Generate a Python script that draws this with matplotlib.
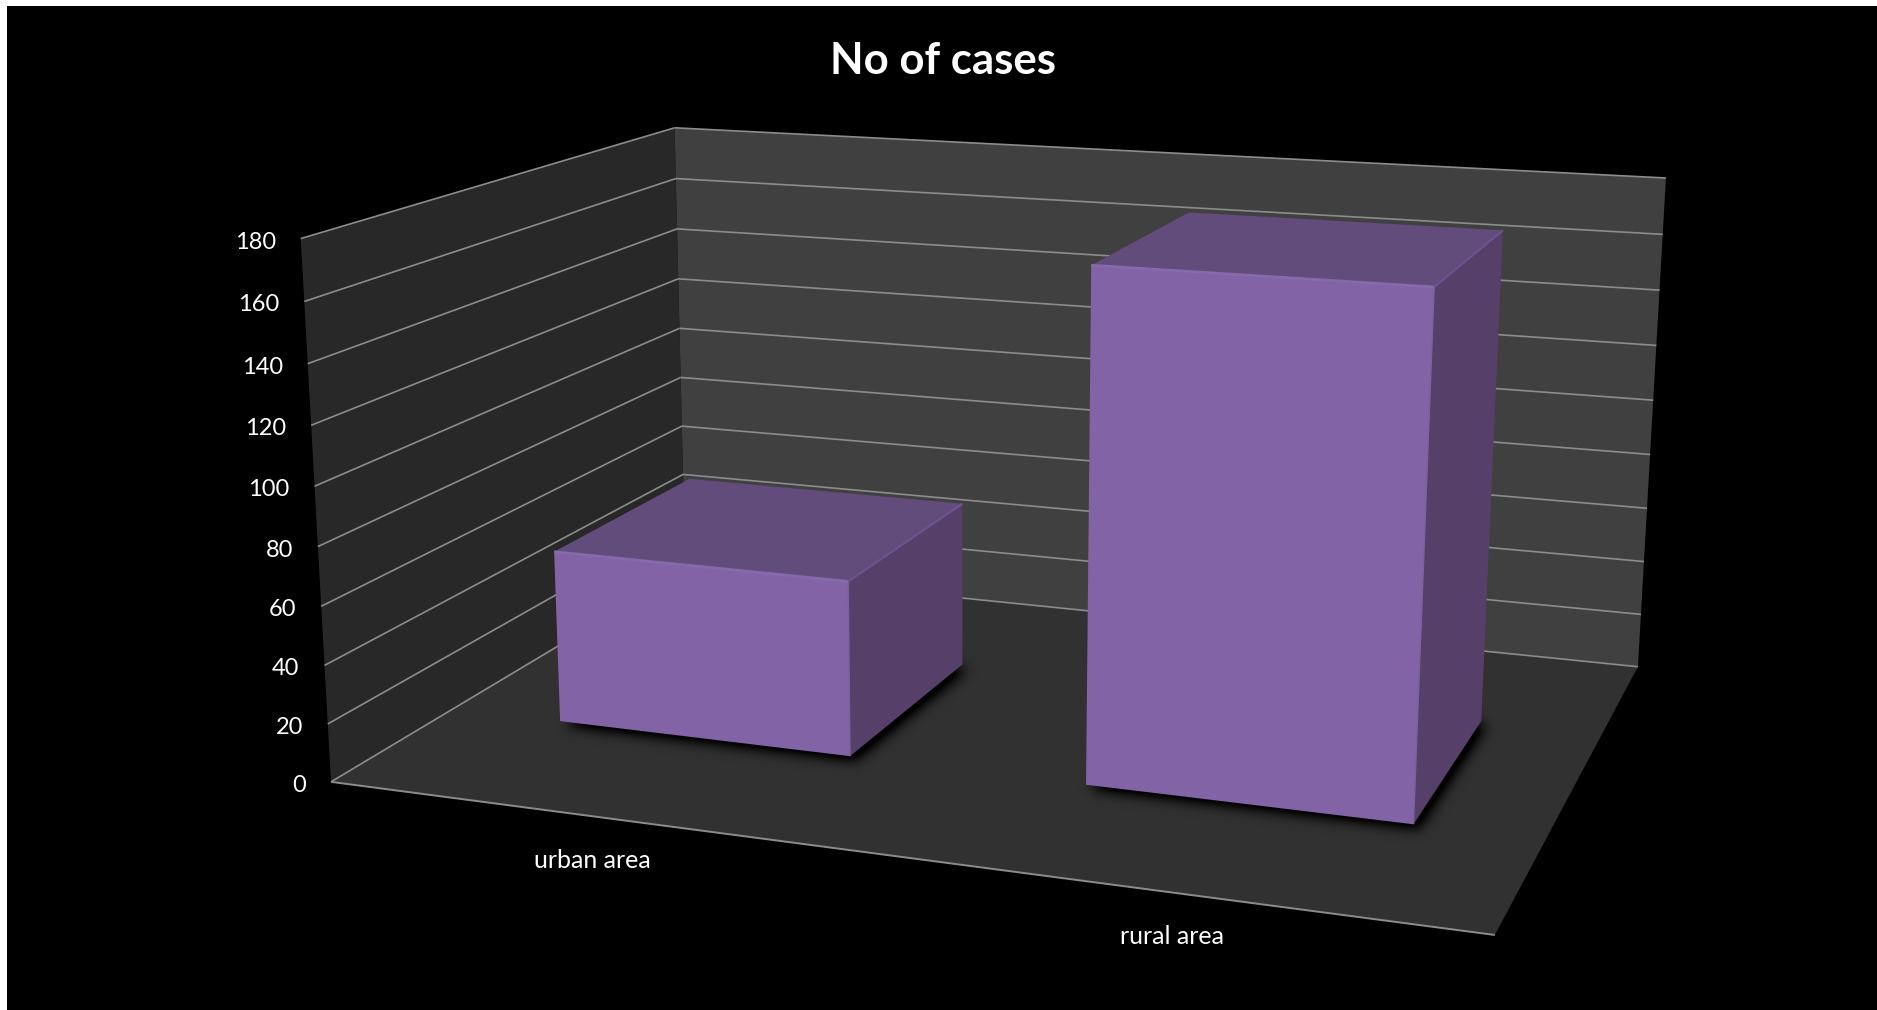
"""3D column chart of case counts, drawn on a flat axes through a fitted camera."""
import matplotlib
matplotlib.use("Agg")
import matplotlib.pyplot as plt
import numpy as np
from matplotlib.path import Path

plt.rcParams["font.family"] = ["Lato", "DejaVu Sans"]

TITLE = "No of cases"
CATEGORIES = ["urban area", "rural area"]
CASES = [61, 172]
Y_TICKS = [0, 20, 40, 60, 80, 100, 120, 140, 160, 180]
Y_MAX = 180

BAR_WIDTH = 0.283   # share of the floor width
BAR_DEPTH = (0.30, 0.70)

W, H = 1877, 1010
BLACK_LEFT, BLACK_TOP = 7, 6

WALL_LEFT = "#282828"
WALL_BACK = "#404040"
FLOOR = "#313131"
GRID = "#8c8c8c"
FRONT = "#8263A5"
TOP = "#624C7C"
SIDE = "#563F69"

# box corners (x, depth, height) and where they land on the canvas
BOX = [(0, 0, 1), (0, 1, 1), (1, 1, 1), (0, 0, 0), (0, 1, 0), (1, 1, 0), (1, 0, 0)]
CANVAS = [(300.4, 238.7), (675, 127.7), (1665.8, 178), (331.3, 781.7),
          (685, 570), (1638, 666.7), (1494.9, 935)]


def fit_camera(box, canvas):
    rows = []
    for (x, y, z), (u, v) in zip(box, canvas):
        rows.append([x, y, z, 1, 0, 0, 0, 0, -u * x, -u * y, -u * z, -u])
        rows.append([0, 0, 0, 0, x, y, z, 1, -v * x, -v * y, -v * z, -v])
    return np.linalg.svd(np.array(rows))[2][-1].reshape(3, 4)


CAMERA = fit_camera(BOX, CANVAS)


def project(x, y, z):
    h = CAMERA @ np.array([x, y, z, 1.0])
    return h[:2] / h[2]


def face(ax, corners, color, zorder):
    pts = np.array([project(*c) for c in corners])
    ax.fill(pts[:, 0], pts[:, 1], color=color, lw=0, zorder=zorder)


def edge(ax, a, b, color, lw, zorder):
    pts = np.array([project(*a), project(*b)])
    ax.plot(pts[:, 0], pts[:, 1], color=color, lw=lw, zorder=zorder,
            solid_capstyle="butt")


def soft_shadow(ax, corners, sigma=6.5, shift=(5.0, 4.0), gain=1.5, zorder=3):
    # blurred copy of the footprint, put down as a black image with alpha
    pts = np.array([project(*c) for c in corners]) + shift
    pad = int(sigma * 4)
    left, right = int(pts[:, 0].min()) - pad, int(pts[:, 0].max()) + pad
    top, bottom = int(pts[:, 1].min()) - pad, int(pts[:, 1].max()) + pad
    xx, yy = np.meshgrid(np.arange(left, right) + 0.5, np.arange(top, bottom) + 0.5)
    inside = Path(pts).contains_points(np.column_stack([xx.ravel(), yy.ravel()]))
    mask = inside.reshape(xx.shape).astype(float)

    t = np.arange(-pad, pad + 1)
    kernel = np.exp(-t ** 2 / (2 * sigma ** 2))
    kernel /= kernel.sum()
    mask = np.apply_along_axis(np.convolve, 0, mask, kernel, mode="same")
    mask = np.apply_along_axis(np.convolve, 1, mask, kernel, mode="same")

    rgba = np.zeros(mask.shape + (4,))
    rgba[..., 3] = np.clip(mask * gain, 0, 0.95)
    ax.imshow(rgba, extent=(left, right, bottom, top), zorder=zorder,
              interpolation="bilinear", aspect="auto")


fig = plt.figure(figsize=(W / 100, H / 100), dpi=100, facecolor="white")
ax = fig.add_axes([BLACK_LEFT / W, 0, (W - BLACK_LEFT) / W, (H - BLACK_TOP) / H])
ax.set_facecolor("black")
ax.set_xticks([])
ax.set_yticks([])
for spine in ax.spines.values():
    spine.set_visible(False)

# walls and floor
face(ax, [(0, 0, 0), (0, 1, 0), (0, 1, 1), (0, 0, 1)], WALL_LEFT, 1)
face(ax, [(0, 1, 0), (1, 1, 0), (1, 1, 1), (0, 1, 1)], WALL_BACK, 1)
face(ax, [(0, 0, 0), (1, 0, 0), (1, 1, 0), (0, 1, 0)], FLOOR, 1)

# gridlines wrap round the left and back walls
for tick in Y_TICKS:
    z = tick / Y_MAX
    edge(ax, (0, 0, z), (0, 1, z), GRID, 1.2, 2)
    edge(ax, (0, 1, z), (1, 1, z), GRID, 1.2, 2)
    px, py = project(0, 0, z)
    ax.text(px - 25, py + 3.5, str(tick), color="white", fontsize=17,
            ha="right", va="center", zorder=6)
edge(ax, (0, 0, 0), (1, 0, 0), GRID, 1.4, 2)

# columns, each with a soft shadow round its footprint
for i, (name, value) in enumerate(zip(CATEGORIES, CASES)):
    centre = (i + 0.5) / len(CASES)
    x0, x1 = centre - BAR_WIDTH / 2, centre + BAR_WIDTH / 2
    y0, y1 = BAR_DEPTH
    z = value / Y_MAX

    soft_shadow(ax, [(x0, y0, 0), (x1, y0, 0), (x1, y1, 0), (x0, y1, 0)])

    face(ax, [(x0, y0, z), (x1, y0, z), (x1, y1, z), (x0, y1, z)], TOP, 4)
    face(ax, [(x1, y0, 0), (x1, y1, 0), (x1, y1, z), (x1, y0, z)], SIDE, 4)
    face(ax, [(x0, y0, 0), (x1, y0, 0), (x1, y0, z), (x0, y0, z)], FRONT, 4)
    edge(ax, (x0, y0, z), (x1, y0, z), "#876AAC", 2.0, 5)
    edge(ax, (x1, y0, z), (x1, y1, z), "#6C5390", 1.6, 5)
    edge(ax, (x1, y0, 0), (x1, y0, z), "#7E60A0", 1.0, 5)

    lx, ly = project(centre, 0, 0)
    ax.text(lx - 2, ly + 44, name, color="white", fontsize=18,
            ha="center", va="center", zorder=6)

ax.text(943, 60.5, TITLE, color="white", fontsize=31.5, fontweight="bold",
        ha="center", va="center", zorder=6)

ax.set_xlim(BLACK_LEFT, W)
ax.set_ylim(H, BLACK_TOP)

fig.savefig("out.png", dpi=100, facecolor=fig.get_facecolor())
